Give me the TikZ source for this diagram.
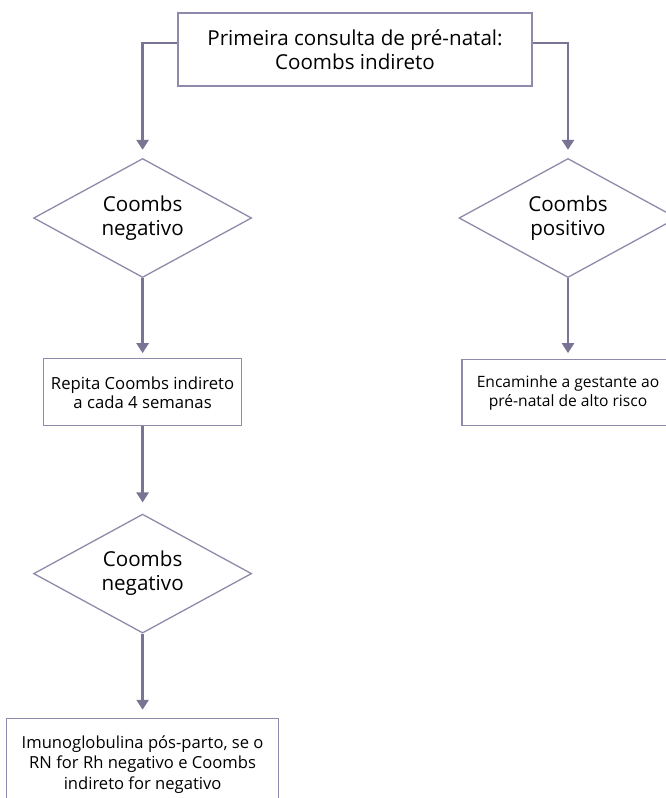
\documentclass[tikz,border=0pt]{standalone}
\usepackage{fontspec}
\setmainfont{Open Sans}
\usetikzlibrary{arrows.meta,positioning,shapes.geometric}

\definecolor{flowline}{HTML}{7A7394}
\definecolor{flowedge}{HTML}{8F89AB}

\begin{document}
\begin{tikzpicture}[x=1pt,y=1pt,
	flow/.style={-{Triangle[length=10pt,width=12pt]},line width=2.5pt,draw=flowline,shorten >=7pt},
	bigtext/.style={font=\fontsize{20.6}{24}\selectfont,align=center},
	smalltext/.style={font=\fontsize{16.7}{19}\selectfont,align=center},
	startbox/.style={draw=flowedge,line width=1.3pt,bigtext,minimum width=354pt,minimum height=73pt,inner sep=0pt},
	actbox/.style={draw=flowedge,line width=1.3pt,smalltext,inner sep=0pt},
	testbox/.style={diamond,draw=flowedge,line width=1.3pt,bigtext,aspect=1.83,minimum width=218pt,minimum height=119pt,inner sep=0pt}]
	\useasboundingbox (0,0) rectangle (666,-798);

	\node[startbox] (first) at (355,-49.5) {Primeira consulta de pré-natal:\\Coombs indireto};
	\node[testbox] (neg1) at (142.6,-218) {Coombs\\negativo};
	\node[testbox] (pos) at (568,-218) {Coombs\\positivo};
	\node[actbox,minimum width=198pt,minimum height=67pt] (repeat) [below = 80pt of neg1] {Repita Coombs indireto\\a cada 4 semanas};
	\node[actbox,minimum width=212pt,minimum height=66pt,font=\fontsize{15.6}{19}\selectfont] (refer) [below = 81pt of pos] {Encaminhe a gestante ao\\pré-natal de alto risco};
	\node[testbox] (neg2) [below = 87pt of repeat] {Coombs\\negativo};
	\node[actbox,minimum width=272pt,minimum height=92pt,font=\fontsize{16.6}{20.5}\selectfont] (immuno) [below = 84pt of neg2] {Imunoglobulina pós-parto, se o\\RN for Rh negativo e Coombs\\indireto for negativo};

	\draw[flow,shorten >=8pt] ([yshift=6.5pt]first.west) -| (neg1);
	\draw[flow,shorten >=8pt] ([yshift=6.5pt]first.east) -| (pos);
	\draw[flow,shorten >=5pt] (neg1) -- (repeat);
	\draw[flow,shorten >=6pt] (pos) -- (refer);
	\draw[flow,shorten >=11pt] (repeat) -- (neg2);
	\draw[flow,shorten >=8pt] (neg2) -- (immuno);
\end{tikzpicture}
\end{document}
